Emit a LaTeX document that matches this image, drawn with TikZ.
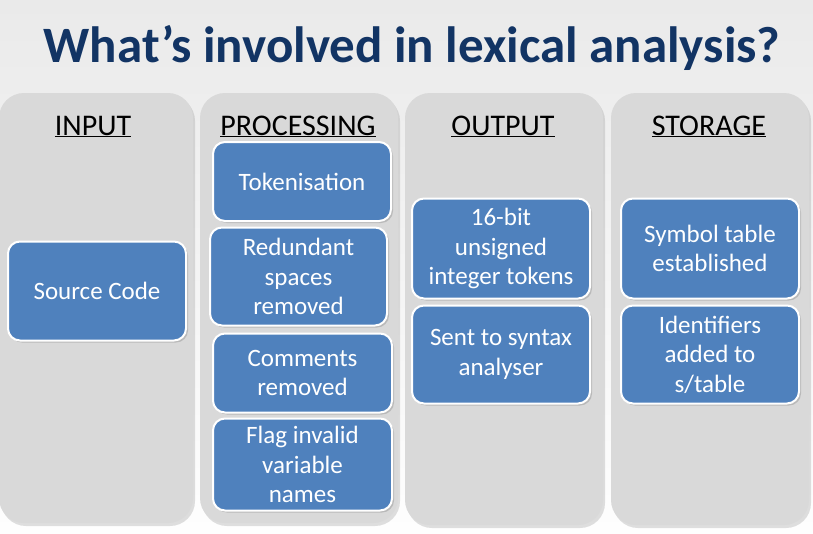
\documentclass[tikz,border=0pt]{standalone}
\usepackage{fontspec}
\setmainfont{Carlito}
\usetikzlibrary{shadows}
\definecolor{titleblue}{RGB}{18,52,100}
\definecolor{boxblue}{RGB}{79,129,189}
\definecolor{panelgrey}{RGB}{217,217,217}
\definecolor{backgrey}{RGB}{234,234,234}
\tikzset{
	panel/.style={fill=panelgrey, rounded corners=25pt, inner sep=0pt,
		drop shadow={shadow xshift=2pt, shadow yshift=-3pt, opacity=0.25}},
	heading/.style={anchor=base, inner sep=0pt, font=\fontsize{30}{36}\selectfont},
	task/.style={fill=boxblue, draw=white, line width=2pt, rounded corners=12pt,
		text=white, align=center, inner sep=0pt,
		font=\fontsize{25}{29.5}\selectfont,
		drop shadow={shadow xshift=2pt, shadow yshift=-2pt, opacity=0.35}}
}
\begin{document}
\begin{tikzpicture}[x=1pt,y=-1pt]
	\useasboundingbox (0,0) rectangle (813,533);
	\fill [top color=backgrey, bottom color=white!95!backgrey] (0,0) rectangle (813,533);
	% title
	\node [anchor=base, text=titleblue, font=\fontsize{51}{60}\selectfont\bfseries] (title) at (412,62) {What’s involved in lexical analysis?};
	% the four columns
	\node [panel, minimum width=194pt, minimum height=430pt] (colin) at (96,308) {};
	\node [panel, minimum width=198pt, minimum height=430pt] (colproc) at (299,308) {};
	\node [panel, minimum width=198pt, minimum height=432pt] (colout) at (504,309) {};
	\node [panel, minimum width=198pt, minimum height=432pt] (colstore) at (710,309) {};
	\node [heading] (hin) at (93,135) {\underline{INPUT}};
	\node [heading] (hproc) at (298,135) {\underline{PROCESSING}};
	\node [heading] (hout) at (503,135) {\underline{OUTPUT}};
	\node [heading] (hstore) at (709,135) {\underline{STORAGE}};
	% input
	\node [task, minimum width=178pt, minimum height=99pt] (source) at (97,291) {Source Code};
	% processing
	\node [task, minimum width=178pt, minimum height=79pt] (token) at (302,181.5) {Tokenisation};
	\node [task, minimum width=177pt, minimum height=98pt] (spaces) at (298.5,276.5) {Redundant\\spaces\\removed};
	\node [task, minimum width=179pt, minimum height=79pt] (comments) at (302.5,373) {Comments\\removed};
	\node [task, minimum width=179pt, minimum height=92pt] (flag) at (302.5,464.5) {Flag invalid\\variable\\names};
	% output
	\node [task, minimum width=178pt, minimum height=100pt] (tokens) at (501,248.5) {16-bit\\unsigned\\integer tokens};
	\node [task, minimum width=178pt, minimum height=98pt] (syntax) at (501,354.5) {Sent to syntax\\analyser};
	% storage
	\node [task, minimum width=178pt, minimum height=100pt] (symtab) at (710,248.5) {Symbol table\\established};
	\node [task, minimum width=178pt, minimum height=98pt] (idents) at (710,354.5) {Identifiers\\added to\\s/table};
\end{tikzpicture}
\end{document}
